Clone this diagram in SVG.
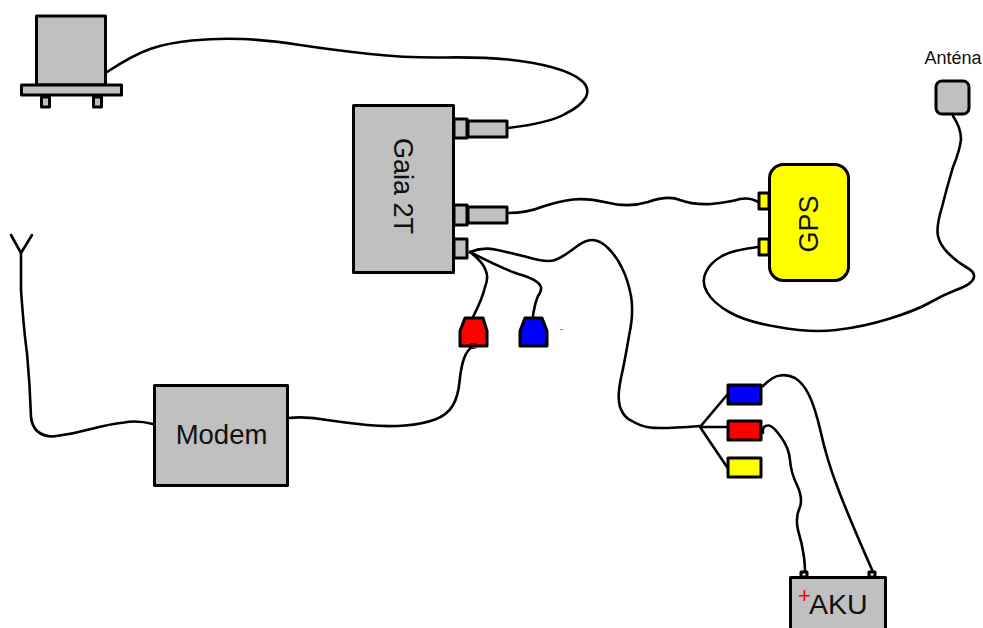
<svg xmlns="http://www.w3.org/2000/svg" width="983" height="628" viewBox="0 0 983 628">
<style>
.s{stroke:#000;stroke-width:3;stroke-linejoin:round}
.g{fill:#c0c0c0}
.w{fill:none;stroke:#000;stroke-width:2.6;stroke-linecap:round;stroke-linejoin:round}
text{font-family:"Liberation Sans",Arial,sans-serif;fill:#111}
</style>
<rect width="983" height="628" fill="#fff"/>
<g id="connectors">
<path class="w" d="M107 72Q133 55 150 49Q167 43 192 40.500Q217 38 242 39Q267 40 300 45Q333 50 370 54Q407 58 445 57.500Q483 57 508 59.500Q533 62 553 67.500Q573 73 582 81Q590 88 586 97Q581 106 565 114Q550 123 508 128"/>
<path class="w" d="M508 213Q527 213 543 206.500Q560 201 573 199.500Q587 198 607 202.500Q628 208 648 202Q668 195 680 200Q693 205 711 204Q730 202 740 199Q750 197 758 202"/>
<path class="w" d="M758 247Q733 250 722 256Q710 263 706 272Q701 282 707 292Q713 303 730 312.500Q747 322 778 327Q810 333 836 330Q863 327 890 318.500Q917 310 930 302.500Q943 295 956 290Q973 284 974 277Q975 272 966 267Q957 262 948 253Q940 245 938 236Q936 227 942 207Q947 187 953 167Q960 150 961 139Q961 128 953 116"/>
<path class="w" d="M470 252Q483 262 485.500 270Q489 277 485 287Q483 297 473 317"/>
<path class="w" d="M470 252Q507 271 522 275Q537 280 540 285Q543 289 538 296Q535 303 534 310Q533 314 533 317"/>
<path class="w" d="M470 252Q483 247 495 249.500Q507 252 527 257Q547 263 555 260Q563 257 576 247Q585 240 592 240Q600 240 608 248Q617 257 622 268Q628 280 631 296Q634 313 629 336Q625 360 621 378Q617 397 620 407Q624 418 632 421Q640 426 650 427.500Q660 429 700 426"/>
<path class="w" d="M700 427L727 395M700 427H727M700 427L727 467"/>
<path class="w" d="M763 386Q773 376 780 375.500Q787 374 795 378Q803 383 809 395Q815 407 821 433Q827 460 837 486Q847 513 873 572"/>
<path class="w" d="M763 433Q762 425 769 425.500Q773 426 781 437Q789 448 790 460Q791 473 797 485Q803 498 800 507Q795 517 798 530Q802 543 804 557Q805 565 805 572"/>
<path class="w" d="M288 418Q307 416 327 420Q347 423 367 425Q387 427 405 425.500Q423 424 435 419.500Q447 415 452.500 406Q458 397 459.500 382Q461 367 464 358.500Q467 350 473 346"/>
<path class="w" d="M21 253V290Q24 332 27 353Q30 385 31 417Q33 436 53 436.500Q73 434 91 429Q110 424 124 422.500Q137 420 153 424"/>
<path class="w" d="M11 235L21 253L32 235"/>
</g>
<g id="device">
<rect class="s g" x="36.500" y="16" width="69" height="69"/>
<rect class="s g" x="21.500" y="85" width="100" height="10"/>
<rect class="s g" x="41.500" y="97" width="8" height="10"/>
<rect class="s g" x="93.500" y="97" width="8" height="10"/>
</g>
<g id="gaia">
<rect class="s g" x="353.500" y="105.500" width="100" height="167"/>
<rect class="s g" x="454" y="119" width="13" height="19"/>
<rect class="s g" x="468" y="121" width="39" height="16"/>
<rect class="s g" x="454" y="205" width="13" height="20"/>
<rect class="s g" x="468" y="207" width="39" height="16"/>
<rect class="s g" x="454" y="239" width="13" height="19"/>
<text font-size="27" text-anchor="middle" transform="translate(394 186) rotate(90)">Gaia 2T</text>
</g>
<g id="connector-red"><path class="s" fill="#f00" d="M465 318H483L487 331V346H460V331Z"/>
<ellipse cx="473" cy="346" rx="4" ry="2.500" fill="none" stroke="#000" stroke-width="1"/></g>
<g id="connector-blue"><path class="s" fill="#00f" d="M525 318H542L547 331V346H520V331Z"/></g>
<rect id="speck" x="560" y="329" width="3" height="1" fill="#888"/>
<g id="modem"><rect class="s g" x="154.500" y="385.500" width="133" height="100"/>
<text x="221.500" y="444" font-size="27.500" text-anchor="middle">Modem</text></g>
<g id="gps">
<rect class="s" fill="#ff0" x="769.500" y="164.500" width="79" height="116" rx="14"/>
<rect class="s" fill="#ff0" x="759" y="193" width="10" height="16"/>
<rect class="s" fill="#ff0" x="759" y="239" width="10" height="16"/>
<text font-size="27" text-anchor="middle" transform="translate(818 224) rotate(-90)">GPS</text>
</g>
<g id="antenna">
<rect class="s g" x="936" y="81" width="33" height="33" rx="6"/>
<text x="953" y="64" font-size="18" text-anchor="middle">Anténa</text>
</g>
<g id="term-blue"><rect class="s" fill="#00f" x="728" y="385" width="33" height="19"/></g>
<g id="term-red"><rect class="s" fill="#f00" x="728" y="421" width="33" height="19"/></g>
<g id="term-yellow"><rect class="s" fill="#ff0" x="728" y="458" width="33" height="19"/></g>
<g id="aku">
<rect class="s" fill="#fff" x="801" y="572" width="6" height="5"/>
<rect class="s" fill="#fff" x="869" y="572" width="6" height="5"/>
<rect class="s g" x="790.500" y="577.500" width="95" height="60"/>
<text x="809" y="614" font-size="28.500">AKU</text>
<text x="798" y="603" font-size="22" style="fill:#f00">+</text>
</g>
</svg>
